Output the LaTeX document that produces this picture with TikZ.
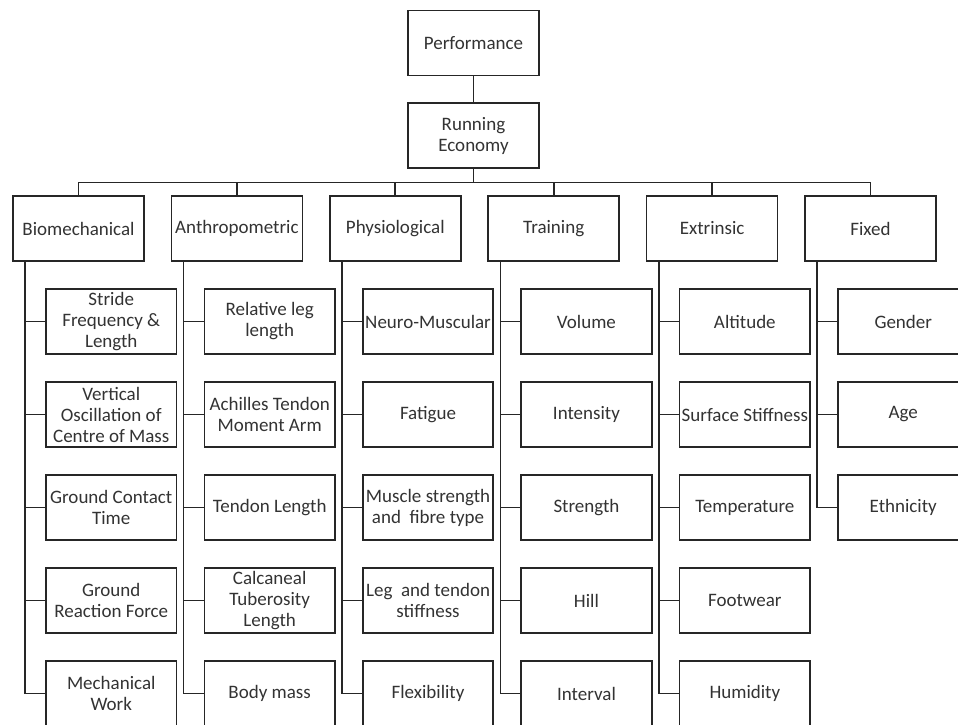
\documentclass[tikz,border=0pt]{standalone}
\usepackage{fontspec}
\setmainfont{Carlito}
\begin{document}
\begin{tikzpicture}[x=1pt,y=-1pt,
  box/.style={draw=black!85,line width=1.7pt,minimum width=131pt,minimum height=65pt,inner sep=0pt,align=center,font=\fontsize{19}{21}\selectfont,text=black!80},
  kid/.style={box,minimum width=130.5pt},
  conn/.style={draw=black!85,line width=1.7pt}]
\useasboundingbox (0,0) rectangle (958,725);
\fill[white] (0,0) rectangle (958,725);
\node[box] (perf) at (473.5,43) {Performance};
\node[box] (re) at (473.5,135.5) {Running\\Economy};
\coordinate (bus) at (473.5,182.5);
\draw[conn] (perf) -- (re);
\draw[conn] (re) -- (bus);
\foreach \i/\t in {1/Biomechanical,2/Anthropometric,3/Physiological,4/Training,5/Extrinsic,6/Fixed}{
  \node[box] (c\i) at ({78.5+158.4*(\i-1)},228.5) {\t};
}
\draw[conn] (c1.north) |- (bus) -| (c6.north);
\foreach \i in {2,3,4,5}{ \draw[conn] (c\i.north) -- (c\i.north |- bus); }
% children
\foreach \i/\j/\t in {
 1/1/{Stride\\Frequency \&\\Length},1/2/{Vertical\\Oscillation of\\Centre of Mass},1/3/{Ground Contact\\Time},1/4/{Ground\\Reaction Force},1/5/{Mechanical\\Work},
 2/1/{Relative leg\\length},2/2/{Achilles Tendon\\Moment Arm},2/3/{Tendon Length},2/4/{Calcaneal\\Tuberosity\\Length},2/5/{Body mass},
 3/1/{Neuro-Muscular},3/2/{Fatigue},3/3/{Muscle strength\\and\ \ fibre type},3/4/{Leg\ \ and tendon\\stiffness},3/5/{Flexibility},
 4/1/{Volume},4/2/{Intensity},4/3/{Strength},4/4/{Hill},4/5/{Interval},
 5/1/{Altitude},5/2/{Surface Stiffness},5/3/{Temperature},5/4/{Footwear},5/5/{Humidity},
 6/1/{Gender},6/2/{Age},6/3/{Ethnicity}}{
  \node[kid] (k\i\j) at ({78.5+158.4*(\i-1)+32.75},{321.5+93*(\j-1)}) {\t};
  \draw[conn] ([xshift=13pt]c\i.south west) |- (k\i\j.west);
}
\end{tikzpicture}
\end{document}
